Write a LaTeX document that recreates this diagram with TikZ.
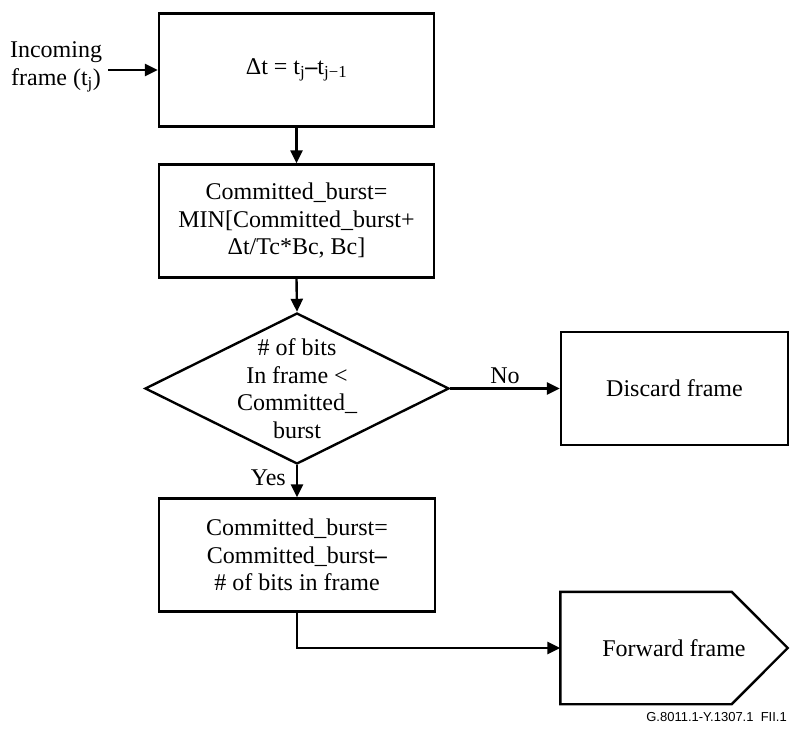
\documentclass[tikz,border=0pt]{standalone}
\usepackage{fontspec}
\setmainfont{Liberation Serif}
\newfontfamily\labfont{Liberation Sans}
\usetikzlibrary{shapes.geometric,arrows.meta}
\begin{document}
\begin{tikzpicture}[x=1bp,y=-1bp,
  every node/.style={font=\fontsize{24bp}{27.5bp}\selectfont, align=center},
  boxnode/.style={draw, line width=2.4bp, minimum width=275bp, minimum height=113bp, inner sep=0},
  arr/.style={line width=2.4bp, -{Triangle[length=13bp,width=12bp]}},
  ]
\useasboundingbox (0,0) rectangle (790,731);
\node[boxnode] (b1) at (296.5,70) {Δt = t\textsubscript{j}\textbf{–}t\textsubscript{j−1}};
\node[boxnode] (b2) at (296.5,221) {Committed\_burst=\\MIN[Committed\_burst+\\Δt/Tc*Bc, Bc]};
\node[draw, diamond, line width=2.4bp, minimum width=304bp, minimum height=151bp, inner sep=0] (d) at (297,388.5) {};
\node (dtext) at (d.center) {\# of bits\\In frame <\\Committed\_\\burst};
\node[boxnode, minimum width=227bp] (disc) at (674.5,388.5) {Discard frame};
\node[boxnode, minimum width=276bp] (b3) at (297,555) {Committed\_burst=\\Committed\_burst\textbf{–}\\\# of bits in frame};
\node[minimum width=227bp, minimum height=112bp, inner sep=0] (fwd) at (674,648) {Forward frame};
\draw[line width=2.4bp, line join=miter] (fwd.north west) -- ([xshift=-56bp]fwd.north east) -- (fwd.east) -- ([xshift=-56bp]fwd.south east) -- (fwd.south west) -- cycle;
\node[inner xsep=6bp] (in) at (56,67) {Incoming\\frame (t\textsubscript{j})};
\node[font=\labfont\fontsize{13bp}{15bp}\selectfont, anchor=base east, inner sep=0] (fig) at (787,721) {G.8011.1-Y.1307.1\ \ FII.1};
\draw[arr] (in.east |- b1.west) -- (b1.west);
\draw[arr] (b1.south) -- (b2.north);
\draw[arr] (b2.south) -- (d.north);
\draw[arr] (d.east) -- node[above]{No} (disc.west);
\draw[arr] (d.south) -- node[pos=0.38, left, inner xsep=10bp]{Yes} (b3.north);
\draw[arr] (b3.south) |- (fwd.west);
\end{tikzpicture}
\end{document}
